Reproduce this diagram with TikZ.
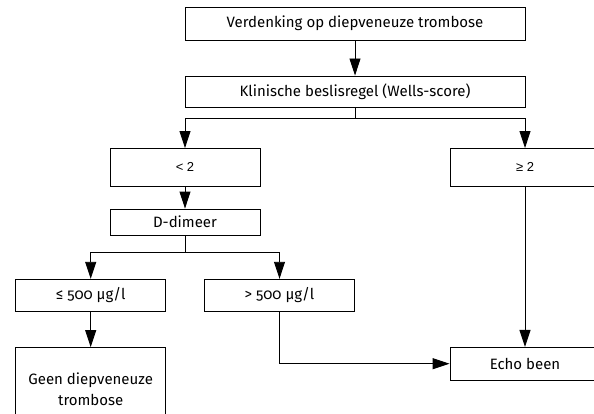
\documentclass[tikz,border=0pt]{standalone}
\usepackage{fontspec}
\setmainfont{Fira Sans}[Numbers=OldStyle]
\newfontfamily\scorefont{Liberation Sans}
\usetikzlibrary{arrows.meta}

\newcommand\MYwide{340}
\newcommand\MYnarrow{150}

\begin{document}
\begin{tikzpicture}[x=1pt,y=1pt,
  box/.style={draw, line width=0.9pt, inner sep=0pt, minimum width=\MYnarrow pt,
    font=\fontsize{15}{21}\selectfont, align=center},
  score/.style={box, font=\scorefont\fontsize{13}{15}\selectfont},
  arr/.style={line width=0.9pt, -{Triangle[length=17pt,width=11pt]}},
  conn/.style={line width=0.9pt}]

\useasboundingbox (0,0) rectangle (594,413);

\coordinate (S1) at (355,295);
\coordinate (S2) at (185,160.5);

\node[box, minimum width=\MYwide pt, minimum height=33pt] (VD) at (355,389.5) {Verdenking op diepveneuze trombose};
\node[box, minimum width=\MYwide pt, minimum height=31pt] (KB) at (355,321.5) {Klinische beslisregel (Wells-score)};
\node[score, minimum height=37.5pt] (LT) at (185,245.75) {< 2};
\node[score, minimum height=37.5pt] (GE) at (525,245.75) {≥ 2};
\node[box, minimum height=26pt] (DD) at (185,191) {D-dimeer};
\node[box, minimum height=32.5pt] (LE) at (90.7,117.5) {≤ 500 µg/l};
\node[box, minimum height=32.5pt] (GT) at (279.5,117.5) {> 500 µg/l};
\node[box, minimum height=83.4pt] (GD) at (90.7,23.7) {Geen diepveneuze\\trombose};
\node[box, minimum height=32.7pt] (EB) at (525,49.3) {Echo been};

\draw[arr] (VD) -- (KB);
\draw[conn] (KB.south) -- (S1);
\draw[arr] (S1) -| (LT.north);
\draw[arr] (S1) -| (GE.north);
\draw[arr] (LT) -- (DD);
\draw[conn] (DD.south) -- (S2);
\draw[arr] (S2) -| (LE.north);
\draw[arr] (S2) -| (GT.north);
\draw[arr] (LE) -- (GD);
\draw[arr] (GE) -- (EB);
\draw[arr] (GT.south) |- (EB.west);

\end{tikzpicture}
\end{document}
